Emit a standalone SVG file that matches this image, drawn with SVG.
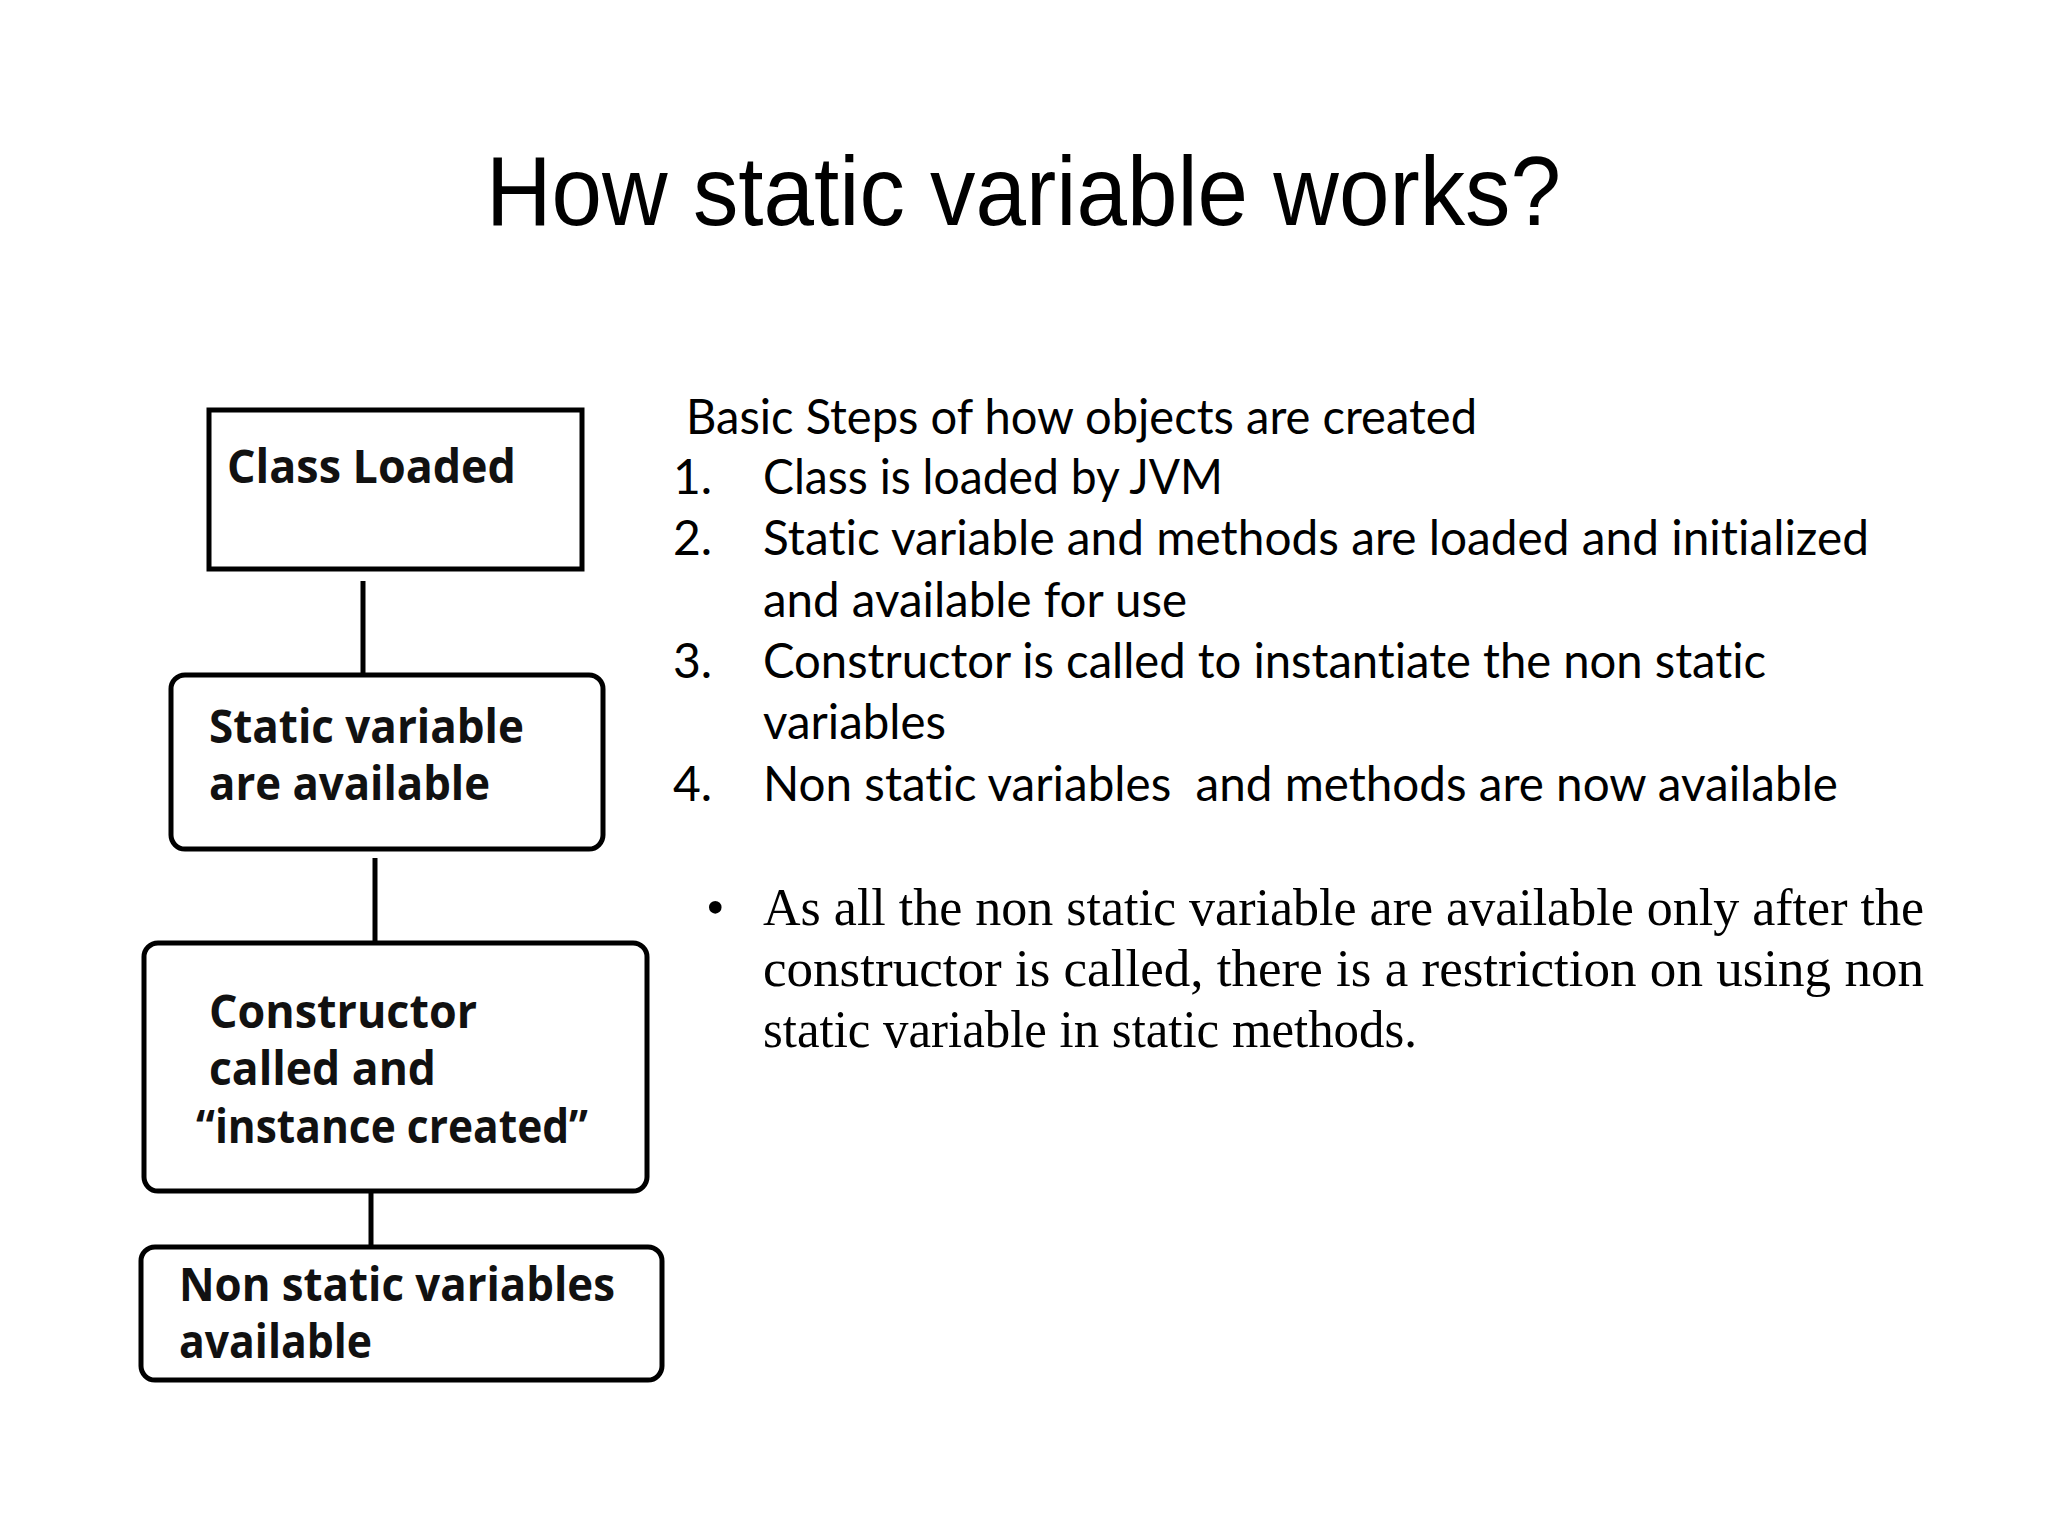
<svg xmlns="http://www.w3.org/2000/svg" width="2048" height="1536" viewBox="0 0 2048 1536">
<style>
.box{fill:#fff;stroke:#000;stroke-width:5}
.conn{stroke:#000;stroke-width:5;fill:none}
.bt{font-family:"Open Sans","DejaVu Sans",sans-serif;font-weight:700;font-size:46px;fill:#111}
.title{font-family:"Liberation Sans",Arial,sans-serif;font-size:99px;fill:#000}
.st{font-family:Lato,"Open Sans",sans-serif;font-size:48px;fill:#000;font-variant-ligatures:none}
.tm{font-family:"Liberation Serif","Times New Roman",serif;font-size:53px;fill:#000}
</style>
<rect width="2048" height="1536" fill="#fff"/>
<text class="title" x="486" y="225" textLength="1075" lengthAdjust="spacingAndGlyphs">How static variable works?</text>
<g id="connectors">
<line class="conn" x1="363" y1="581" x2="363" y2="675"/>
<line class="conn" x1="375" y1="858" x2="375" y2="943"/>
<line class="conn" x1="371" y1="1191" x2="371" y2="1247"/>
</g>
<g id="node-class-loaded">
<rect class="box" x="209" y="410" width="373" height="159"/>
<text class="bt" x="227" y="483" textLength="289" lengthAdjust="spacingAndGlyphs">Class Loaded</text>
</g>
<g id="node-static-available">
<rect class="box" x="171" y="675" width="432" height="174" rx="14"/>
<text class="bt" x="209" y="743" textLength="315" lengthAdjust="spacingAndGlyphs">Static variable</text>
<text class="bt" x="209" y="800" textLength="281" lengthAdjust="spacingAndGlyphs">are available</text>
</g>
<g id="node-constructor">
<rect class="box" x="144" y="943" width="503" height="248" rx="14"/>
<text class="bt" x="209" y="1028" textLength="268" lengthAdjust="spacingAndGlyphs">Constructor</text>
<text class="bt" x="209" y="1085" textLength="227" lengthAdjust="spacingAndGlyphs">called and</text>
<text class="bt" x="196" y="1143" textLength="392" lengthAdjust="spacingAndGlyphs">“instance created”</text>
</g>
<g id="node-non-static">
<rect class="box" x="141" y="1247" width="521" height="133" rx="14"/>
<text class="bt" x="179" y="1301" textLength="436" lengthAdjust="spacingAndGlyphs">Non static variables</text>
<text class="bt" x="179" y="1358" textLength="193" lengthAdjust="spacingAndGlyphs">available</text>
</g>
<g id="steps">
<text class="st" x="686" y="434" textLength="791" lengthAdjust="spacingAndGlyphs">Basic Steps of how objects are created</text>
<text class="st" x="673" y="494">1.</text>
<text class="st" x="763" y="494" textLength="460" lengthAdjust="spacingAndGlyphs">Class is loaded by JVM</text>
<text class="st" x="673" y="555">2.</text>
<text class="st" x="763" y="555" textLength="1106" lengthAdjust="spacingAndGlyphs">Static variable and methods are loaded and initialized</text>
<text class="st" x="763" y="617" textLength="424" lengthAdjust="spacingAndGlyphs">and available for use</text>
<text class="st" x="673" y="678">3.</text>
<text class="st" x="763" y="678" textLength="1003" lengthAdjust="spacingAndGlyphs">Constructor is called to instantiate the non static</text>
<text class="st" x="763" y="739" textLength="183" lengthAdjust="spacingAndGlyphs">variables</text>
<text class="st" x="673" y="801">4.</text>
<text class="st" x="763" y="801" textLength="1075" lengthAdjust="spacingAndGlyphs" xml:space="preserve">Non static variables  and methods are now available</text>
</g>
<g id="note">
<text class="tm" x="706" y="925">•</text>
<text class="tm" x="763" y="925" textLength="1161" lengthAdjust="spacingAndGlyphs">As all the non static variable are available only after the</text>
<text class="tm" x="763" y="986" textLength="1161" lengthAdjust="spacingAndGlyphs">constructor is called, there is a restriction on using non</text>
<text class="tm" x="763" y="1047" textLength="654" lengthAdjust="spacingAndGlyphs">static variable in static methods.</text>
</g>
</svg>
